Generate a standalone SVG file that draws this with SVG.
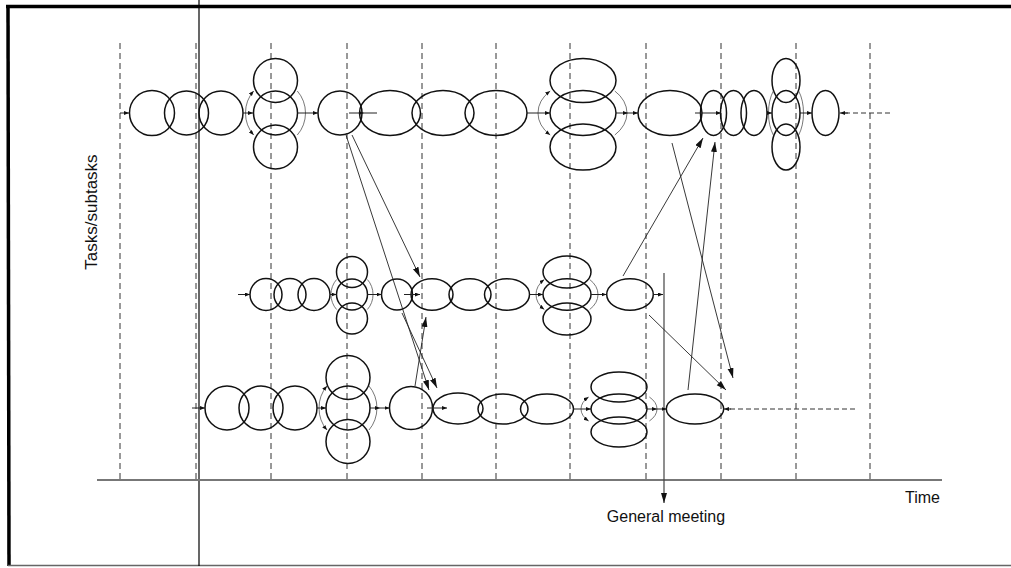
<svg xmlns="http://www.w3.org/2000/svg" width="1011" height="568" viewBox="0 0 1011 568">
<style>
.n{fill:none;stroke:#111;stroke-width:1.5}
.ring{fill:none;stroke:#555;stroke-width:0.8}
.ringa{fill:none;stroke:#555;stroke-width:0.8;marker-end:url(#sm)}
.grid{stroke:#333;stroke-width:1;stroke-dasharray:6,4}
.ra{stroke:#222;stroke-width:1;fill:none;marker-end:url(#sm)}
.xa{stroke:#222;stroke-width:0.9;fill:none;marker-end:url(#big)}
.lbl{font-family:"Liberation Sans",Arial,sans-serif;font-size:16px;fill:#111}
</style>
<defs>
<marker id="big" markerUnits="userSpaceOnUse" markerWidth="11" markerHeight="7" refX="10" refY="3" orient="auto"><path d="M0,0 L10,3 L0,6 z" fill="#111"/></marker>
<marker id="sm" markerUnits="userSpaceOnUse" markerWidth="6" markerHeight="5" refX="5" refY="2" orient="auto"><path d="M0,0 L5,2 L0,4 z" fill="#111"/></marker>
</defs>
<rect width="1011" height="568" fill="#fff"/>
<g id="frame">
<line x1="6" y1="6.5" x2="1011" y2="6.5" stroke="#000" stroke-width="3.5"/>
<line x1="8" y1="5" x2="9" y2="566" stroke="#000" stroke-width="3.5"/>
<line x1="8" y1="565.5" x2="1011" y2="565.5" stroke="#666" stroke-width="1.5"/>
<line x1="199" y1="0" x2="199" y2="566" stroke="#000" stroke-width="1.2"/>
</g>
<g id="grid">
<line class="grid" x1="120" y1="43" x2="120" y2="480"/>
<line class="grid" x1="196" y1="43" x2="196" y2="480"/>
<line class="grid" x1="271" y1="43" x2="271" y2="480"/>
<line class="grid" x1="347" y1="43" x2="347" y2="480"/>
<line class="grid" x1="422" y1="43" x2="422" y2="480"/>
<line class="grid" x1="496" y1="43" x2="496" y2="480"/>
<line class="grid" x1="570" y1="43" x2="570" y2="480"/>
<line class="grid" x1="646" y1="43" x2="646" y2="480"/>
<line class="grid" x1="721" y1="43" x2="721" y2="480"/>
<line class="grid" x1="796" y1="43" x2="796" y2="480"/>
<line class="grid" x1="870" y1="43" x2="870" y2="480"/>
</g>
<g id="axes">
<line x1="97" y1="480" x2="942" y2="480" stroke="#777" stroke-width="2"/>
<text class="lbl" x="97" y="212" text-anchor="middle" transform="rotate(-90 97 212)" style="font-size:17px">Tasks/subtasks</text>
<text class="lbl" x="905" y="503">Time</text>
</g>
<g id="general-meeting">
<line x1="664" y1="273" x2="664" y2="503" stroke="#444" stroke-width="1.2" marker-end="url(#big)"/>
<text class="lbl" x="666" y="522" text-anchor="middle">General meeting</text>
</g>
<g id="row1">
<circle class="n" cx="152" cy="113" r="22.5"/>
<circle class="n" cx="186.5" cy="113" r="22"/>
<circle class="n" cx="221" cy="113" r="22"/>
<g id="r1-stack1">
<circle class="n" cx="275.5" cy="80.5" r="22"/>
<circle class="n" cx="275.5" cy="113" r="22"/>
<circle class="n" cx="275.5" cy="147" r="22"/>
<path class="ringa" d="M245.5,113 A30,32 0 0 1 253.7,91"/>
<path class="ringa" d="M245.5,113 A30,32 0 0 0 253.7,135"/>
<path class="ring" d="M297.3,91 A30,32 0 0 1 297.3,135"/>
</g>
<circle class="n" cx="340" cy="113" r="22"/>
<ellipse class="n" cx="390" cy="113" rx="30.5" ry="22.5"/>
<ellipse class="n" cx="443" cy="113" rx="31" ry="22.5"/>
<ellipse class="n" cx="496" cy="113" rx="31" ry="22.5"/>
<g id="r1-stack2">
<ellipse class="n" cx="583" cy="80.5" rx="33" ry="22"/>
<ellipse class="n" cx="583" cy="113" rx="33" ry="22.5"/>
<ellipse class="n" cx="583" cy="147" rx="33" ry="23"/>
<path class="ringa" d="M538,113 A44.5,32 0 0 1 550.2,91"/>
<path class="ringa" d="M538,113 A44.5,32 0 0 0 550.2,135"/>
<path class="ring" d="M614.8,91 A44.5,32 0 0 1 614.8,135"/>
</g>
<ellipse class="n" cx="670" cy="113" rx="32" ry="22.5"/>
<ellipse class="n" cx="713.5" cy="113" rx="13" ry="22.5"/>
<ellipse class="n" cx="733.5" cy="113" rx="13" ry="22.5"/>
<ellipse class="n" cx="754" cy="113" rx="13" ry="22.5"/>
<g id="r1-stack3">
<ellipse class="n" cx="786" cy="80.5" rx="14" ry="22"/>
<ellipse class="n" cx="786" cy="113" rx="14" ry="22.5"/>
<ellipse class="n" cx="786" cy="147" rx="14" ry="23"/>
<path class="ring" d="M773.3,91 A17.5,32 0 0 0 773.3,135"/>
<path class="ring" d="M798.7,91 A17.5,32 0 0 1 798.7,135"/>
</g>
<ellipse class="n" cx="825.5" cy="113" rx="13.5" ry="22.5"/>
</g>
<g id="row2">
<circle class="n" cx="266" cy="294.5" r="16"/>
<circle class="n" cx="290" cy="294.5" r="16"/>
<circle class="n" cx="314" cy="294.5" r="16"/>
<g id="r2-stack1">
<circle class="n" cx="352" cy="272" r="15.5"/>
<circle class="n" cx="352" cy="294.5" r="15.5"/>
<circle class="n" cx="352" cy="318.5" r="15.5"/>
<path class="ring" d="M336.6,279.5 A21,22 0 0 0 336.6,309.5"/>
<path class="ring" d="M367.4,279.5 A21,22 0 0 1 367.4,309.5"/>
</g>
<circle class="n" cx="397" cy="294.5" r="15.5"/>
<ellipse class="n" cx="432" cy="294.5" rx="21" ry="15.7"/>
<ellipse class="n" cx="470" cy="294.5" rx="21" ry="15.7"/>
<ellipse class="n" cx="507" cy="294.5" rx="22.5" ry="15.7"/>
<g id="r2-stack2">
<ellipse class="n" cx="567" cy="272" rx="24" ry="16"/>
<ellipse class="n" cx="567" cy="294.5" rx="24" ry="15.7"/>
<ellipse class="n" cx="567" cy="319" rx="24" ry="16"/>
<path class="ringa" d="M536,294.5 A31,22 0 0 1 544.3,279.5"/>
<path class="ringa" d="M536,294.5 A31,22 0 0 0 544.3,309.5"/>
<path class="ring" d="M589.7,279.5 A31,22 0 0 1 589.7,309.5"/>
</g>
<ellipse class="n" cx="630" cy="294.5" rx="23.3" ry="15.7"/>
</g>
<g id="row3">
<circle class="n" cx="227" cy="408" r="22"/>
<circle class="n" cx="261" cy="408" r="22"/>
<circle class="n" cx="295" cy="408" r="22"/>
<g id="r3-stack1">
<circle class="n" cx="348" cy="377.5" r="22"/>
<circle class="n" cx="348" cy="408" r="22"/>
<circle class="n" cx="348" cy="441.5" r="22"/>
<path class="ringa" d="M319,408 A29,32 0 0 1 327,386"/>
<path class="ringa" d="M319,408 A29,32 0 0 0 327,430"/>
<path class="ring" d="M369,386 A29,32 0 0 1 369,430"/>
</g>
<circle class="n" cx="411" cy="408" r="21.5"/>
<ellipse class="n" cx="458" cy="408.5" rx="25" ry="15.5"/>
<ellipse class="n" cx="503" cy="409" rx="25" ry="15"/>
<ellipse class="n" cx="547" cy="409" rx="26.5" ry="15"/>
<g id="r3-stack2">
<ellipse class="n" cx="619" cy="387" rx="28" ry="15"/>
<ellipse class="n" cx="619" cy="409" rx="28" ry="15"/>
<ellipse class="n" cx="619" cy="432" rx="28" ry="15"/>
<path class="ringa" d="M581,409 A38,20 0 0 1 588.6,397"/>
<path class="ringa" d="M581,409 A38,20 0 0 0 588.6,421"/>
<path class="ring" d="M649.4,397 A38,20 0 0 1 649.4,421"/>
</g>
<ellipse class="n" cx="695" cy="409" rx="28.7" ry="15"/>
</g>
<g id="connectors">
<line class="ra" x1="120" y1="113" x2="129" y2="113"/>
<line class="ra" x1="243" y1="113" x2="253" y2="113"/>
<line class="ra" x1="298" y1="113" x2="318" y2="113"/>
<line class="ra" x1="349" y1="113" x2="364" y2="113"/>
<line x1="364" y1="113" x2="377" y2="113" stroke="#222" stroke-width="1"/>
<line class="ra" x1="527" y1="113" x2="550" y2="113"/>
<line class="ra" x1="616" y1="113" x2="628" y2="113"/>
<line class="ra" x1="628" y1="113" x2="638" y2="113"/>
<line class="ra" x1="695" y1="113" x2="721" y2="113"/>
<line class="ra" x1="767" y1="113" x2="772" y2="113"/>
<line class="ra" x1="800" y1="113" x2="812" y2="113"/>
<line x1="845" y1="113" x2="891" y2="113" stroke="#333" stroke-width="1" stroke-dasharray="5,3"/>
<line class="ra" x1="848" y1="113" x2="840" y2="113"/>
<line class="ra" x1="238" y1="294.5" x2="250" y2="294.5"/>
<line class="ra" x1="330" y1="294.5" x2="336.5" y2="294.5"/>
<line class="ra" x1="367.5" y1="294.5" x2="381.5" y2="294.5"/>
<line class="ra" x1="404" y1="294.5" x2="420" y2="294.5"/>
<line class="ra" x1="529.5" y1="294.5" x2="543" y2="294.5"/>
<line class="ra" x1="591" y1="294.5" x2="606.5" y2="294.5"/>
<line class="ra" x1="653" y1="294.5" x2="663" y2="294.5"/>
<line class="ra" x1="192" y1="408" x2="205" y2="408"/>
<line class="ra" x1="317" y1="408" x2="326" y2="408"/>
<line class="ra" x1="370" y1="408" x2="380" y2="408"/>
<line class="ra" x1="380" y1="408" x2="389.5" y2="408"/>
<line class="ra" x1="427" y1="408" x2="447" y2="408"/>
<line class="ra" x1="573.5" y1="409" x2="591" y2="409"/>
<line class="ra" x1="647" y1="409" x2="657" y2="409"/>
<line class="ra" x1="657" y1="409" x2="666.5" y2="409"/>
<line x1="730" y1="409" x2="855" y2="409" stroke="#333" stroke-width="1" stroke-dasharray="5,3"/>
<line class="ra" x1="731" y1="409" x2="724" y2="409"/>
<line class="xa" x1="346" y1="135" x2="429" y2="390"/>
<line class="xa" x1="352" y1="135" x2="420" y2="277"/>
<line class="xa" x1="402" y1="313" x2="437" y2="388"/>
<line class="xa" x1="415" y1="386" x2="426" y2="317"/>
<line class="xa" x1="672" y1="143" x2="733" y2="378"/>
<line class="xa" x1="623" y1="276" x2="703" y2="138"/>
<line class="xa" x1="688" y1="390" x2="715" y2="142"/>
<line class="xa" x1="649" y1="315" x2="726" y2="390"/>
</g>
</svg>
